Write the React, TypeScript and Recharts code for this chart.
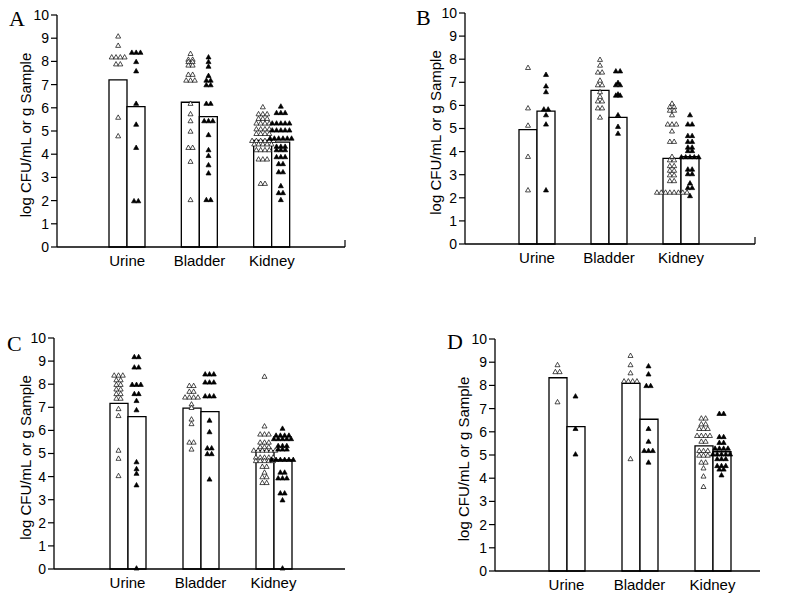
import { ComposedChart, Bar, Scatter, XAxis, YAxis, Label } from "recharts";

const categories = ["Urine", "Bladder", "Kidney"];
const yTicks = [0, 1, 2, 3, 4, 5, 6, 7, 8, 9, 10];

// bar heights per category: open bar, filled bar
const aBarOpen = [7.2, 6.24, 4.6];
const aBarFilled = [6.05, 5.62, 4.52];
const bBarOpen = [4.95, 6.65, 3.71];
const bBarFilled = [5.75, 5.48, 3.78];
const cBarOpen = [7.17, 6.96, 5.12];
const cBarFilled = [6.6, 6.81, 4.72];
const dBarOpen = [8.33, 8.09, 5.39];
const dBarFilled = [6.22, 6.54, 5.14];

// individual animals (open triangles = first group, filled = second group)
const aUrineOpen = [9.1, 8.7, 8.2, 8.2, 8.2, 8.2, 7.9, 7.9, 5.6, 4.8];
const aUrineFilled = [8.4, 8.4, 8.4, 8.0, 7.6, 6.2, 5.3, 4.3, 2.0, 2.0];
const aBladderOpen = [8.35, 8.1, 8.1, 8.0, 8.0, 7.85, 7.85, 7.45, 7.45, 7.2, 7.2, 7.2, 6.2, 5.75, 5.45, 5.0, 4.3, 4.3, 3.7, 2.05];
const aBladderFilled = [8.2, 8.0, 7.8, 7.4, 7.2, 7.2, 7.0, 7.0, 6.2, 6.2, 5.45, 5.45, 5.45, 4.85, 4.2, 3.95, 3.55, 3.2, 2.05, 2.05];
const aKidneyOpen = [6.05, 5.75, 5.75, 5.75, 5.55, 5.55, 5.55, 5.35, 5.35, 5.35, 5.35, 5.1, 5.1, 5.1, 5.1, 4.9, 4.9, 4.9, 4.9, 4.6, 4.6, 4.6, 4.6, 4.6, 4.6, 4.45, 4.45, 4.45, 4.45, 4.45, 4.2, 4.2, 4.2, 4.2, 3.8, 3.8, 3.8, 2.75, 2.75];
const aKidneyFilled = [6.08, 5.8, 5.8, 5.8, 5.35, 5.35, 5.35, 5.35, 5.35, 5.05, 5.05, 5.05, 5.05, 5.05, 4.7, 4.7, 4.7, 4.7, 4.7, 4.7, 4.35, 4.35, 4.35, 4.2, 4.2, 4.2, 3.9, 3.9, 3.9, 3.6, 3.6, 3.25, 3.25, 2.65, 2.35, 2.35, 2.05];

const bUrineOpen = [7.65, 5.9, 5.15, 3.8, 2.35];
const bUrineFilled = [7.35, 6.85, 6.6, 5.85, 5.85, 5.6, 5.2, 2.35];
const bBladderOpen = [8.0, 7.75, 7.45, 7.45, 7.1, 6.9, 6.9, 6.6, 6.4, 6.2, 6.2, 5.9, 5.9, 5.5];
const bBladderFilled = [7.5, 7.5, 7.0, 6.9, 6.9, 6.5, 6.45, 6.45, 5.6, 5.1, 4.8];
const bKidneyOpen = [6.1, 5.95, 5.95, 5.8, 5.8, 5.6, 5.2, 5.2, 5.2, 4.9, 4.45, 4.45, 3.8, 3.65, 3.65, 3.4, 3.4, 3.2, 3.2, 3.0, 3.0, 2.75, 2.75, 2.25, 2.25, 2.25, 2.25, 2.25, 2.25, 2.25, 2.25];
const bKidneyFilled = [5.6, 5.2, 5.2, 4.7, 4.7, 4.45, 4.45, 4.2, 4.2, 4.05, 4.05, 3.78, 3.78, 3.78, 3.78, 3.78, 3.25, 3.25, 3.05, 3.05, 2.65, 2.45, 2.45, 2.1];

const cUrineOpen = [8.4, 8.4, 8.4, 8.2, 8.2, 8.0, 8.0, 7.8, 7.8, 7.6, 7.6, 7.4, 7.4, 6.95, 6.65, 5.15, 4.8, 4.05];
const cUrineFilled = [9.2, 9.2, 8.75, 8.75, 8.0, 8.0, 8.0, 7.6, 7.6, 7.3, 6.9, 4.65, 4.35, 4.15, 3.65, 0.05];
const cBladderOpen = [7.95, 7.95, 7.7, 7.7, 7.45, 7.45, 7.45, 7.45, 7.15, 7.0, 6.5, 6.3, 5.5, 5.5, 5.2];
const cBladderFilled = [8.45, 8.45, 8.45, 8.1, 8.1, 8.1, 7.5, 7.5, 7.5, 6.45, 5.95, 5.25, 5.25, 5.0, 5.0, 3.9];
const cKidneyOpen = [8.35, 6.2, 5.85, 5.85, 5.85, 5.5, 5.5, 5.5, 5.3, 5.3, 5.3, 5.15, 5.15, 5.15, 5.15, 5.15, 5.15, 4.85, 4.85, 4.85, 4.85, 4.85, 4.7, 4.7, 4.7, 4.7, 4.7, 4.45, 4.45, 4.2, 4.0, 4.0, 3.75, 3.75];
const cKidneyFilled = [6.1, 5.8, 5.8, 5.8, 5.8, 5.65, 5.65, 5.65, 5.65, 5.65, 5.35, 5.35, 5.35, 5.2, 5.2, 5.2, 4.75, 4.75, 4.75, 4.75, 4.75, 4.75, 4.2, 4.2, 3.95, 3.95, 3.95, 3.3, 3.3, 3.0, 0.05];

const dUrineOpen = [8.9, 8.6, 8.6, 7.3];
const dUrineFilled = [7.55, 6.15, 5.05];
const dBladderOpen = [9.3, 8.9, 8.55, 8.2, 8.2, 8.2, 8.2, 4.85];
const dBladderFilled = [8.85, 8.5, 8.0, 8.0, 6.15, 5.6, 5.2, 5.2, 5.2, 4.7];
const dKidneyOpen = [6.6, 6.6, 6.35, 6.35, 6.15, 6.15, 6.15, 5.85, 5.85, 5.85, 5.85, 5.6, 5.6, 5.2, 5.2, 5.2, 5.0, 5.0, 5.0, 4.7, 4.7, 4.45, 4.1, 3.65];
const dKidneyFilled = [6.8, 6.8, 5.8, 5.8, 5.55, 5.55, 5.3, 5.3, 5.3, 5.3, 5.05, 5.05, 5.05, 5.05, 5.05, 4.85, 4.85, 4.85, 4.55, 4.55, 4.55, 4.4, 4.4, 4.15];

type Pt = { cat: string; v: number; k: number; n: number };

// tie-break equal values so they sit side by side like in the figure
function buildPoints(groups: number[][]): Pt[] {
  const out: Pt[] = [];
  groups.forEach((vals, ci) => {
    const counts: Record<string, number> = {};
    vals.forEach((v) => {
      counts[v] = (counts[v] || 0) + 1;
    });
    const seen: Record<string, number> = {};
    vals.forEach((v) => {
      const k = seen[v] || 0;
      seen[v] = k + 1;
      out.push({ cat: categories[ci], v, k, n: counts[v] });
    });
  });
  return out;
}

const BAR = 18;
const FONT = "Liberation Sans, Arial, Helvetica";

const triangle = (side: number, filled: boolean) => (props: any) => {
  const { cx, cy, payload } = props;
  if (cx == null || cy == null) return <g />;
  const x = cx + (side * BAR) / 2 + (payload.k - (payload.n - 1) / 2) * 4.3;
  const h = 4.4;
  const w = 2.5;
  return (
    <path
      d={`M${x},${cy - h / 2} L${x + w},${cy + h / 2} L${x - w},${cy + h / 2} Z`}
      fill={filled ? "#000" : "#fff"}
      stroke="#000"
      strokeWidth={0.7}
    />
  );
};

const openShape = triangle(-1, false);
const filledShape = triangle(1, true);

interface PanelProps {
  letter: string;
  left: number;
  top: number;
  margin: { top: number; right: number; bottom: number; left: number };
  yWidth: number;
  xHeight: number;
  pad: { left: number; right: number };
  labelX: number;
  endTick: boolean;
  letterPos: { left: number; top: number };
  barOpen: number[];
  barFilled: number[];
  open: number[][];
  filled: number[][];
}

const Panel = (p: PanelProps) => {
  const rows = categories.map((cat, i) => ({
    cat,
    open: p.barOpen[i],
    filled: p.barFilled[i],
  }));
  const openPts = buildPoints(p.open);
  const filledPts = buildPoints(p.filled);
  return (
    <>
      <div style={{ position: "absolute", left: p.left, top: p.top }}>
        <ComposedChart
          width={400}
          height={300}
          data={rows}
          margin={p.margin}
          barGap={0}
        >
          <XAxis
            dataKey="cat"
            allowDuplicatedCategory={false}
            tickLine={false}
            axisLine={{ stroke: "#000", strokeWidth: 1.3 }}
            padding={p.pad}
            height={p.xHeight}
            tick={{ fill: "#000", fontSize: 15, fontFamily: FONT }}
          >
            {p.endTick && (
              <Label
                content={(lp: any) => {
                  const vb = lp.viewBox;
                  const x = vb.x + vb.width;
                  return (
                    <line x1={x} x2={x} y1={vb.y} y2={vb.y - 7} stroke="#000" strokeWidth={1.2} />
                  );
                }}
              />
            )}
          </XAxis>
          <YAxis
            type="number"
            domain={[0, 10]}
            ticks={yTicks}
            interval={0}
            width={p.yWidth}
            axisLine={{ stroke: "#000", strokeWidth: 1.3 }}
            tickLine={{ stroke: "#000", strokeWidth: 1.2 }}
            tick={{ fill: "#000", fontSize: 14, fontFamily: FONT }}
          >
            <Label
              content={(lp: any) => {
                const vb = lp.viewBox;
                const cy = vb.y + vb.height / 2 + 4;
                return (
                  <text
                    transform={`translate(${p.labelX},${cy}) rotate(-90)`}
                    textAnchor="middle"
                    dominantBaseline="central"
                    fontSize={15}
                    fontFamily={FONT}
                    fill="#000"
                  >
                    log CFU/mL or g Sample
                  </text>
                );
              }}
            />
          </YAxis>
          <Bar dataKey="open" barSize={BAR} fill="#fff" stroke="#000" strokeWidth={1.3} isAnimationActive={false} />
          <Bar dataKey="filled" barSize={BAR} fill="#fff" stroke="#000" strokeWidth={1.3} isAnimationActive={false} />
          <Scatter data={openPts} dataKey="v" shape={openShape} isAnimationActive={false} />
          <Scatter data={filledPts} dataKey="v" shape={filledShape} isAnimationActive={false} />
        </ComposedChart>
      </div>
      <div
        style={{
          position: "absolute",
          left: p.letterPos.left,
          top: p.letterPos.top,
          fontFamily: "Liberation Serif, Times New Roman, serif",
          fontSize: 22,
          lineHeight: "22px",
        }}
      >
        {p.letter}
      </div>
    </>
  );
};

export default function App() {
  return (
    <div
      style={{
        position: "absolute",
        left: 0,
        top: 0,
        width: 800,
        height: 600,
        background: "#fff",
        overflow: "hidden",
      }}
    >
      <Panel
        letter="A"
        left={0}
        top={0}
        margin={{ top: 15, right: 55, bottom: 23, left: 0 }}
        yWidth={57}
        xHeight={30}
        pad={{ left: 34, right: 37 }}
        labelX={25}
        endTick={true}
        letterPos={{ left: 9, top: 8 }}
        barOpen={aBarOpen}
        barFilled={aBarFilled}
        open={[aUrineOpen, aBladderOpen, aKidneyOpen]}
        filled={[aUrineFilled, aBladderFilled, aKidneyFilled]}
      />
      <Panel
        letter="B"
        left={400}
        top={0}
        margin={{ top: 13, right: 45, bottom: 26, left: 0 }}
        yWidth={65}
        xHeight={30}
        pad={{ left: 36, right: 38 }}
        labelX={35}
        endTick={true}
        letterPos={{ left: 416, top: 7 }}
        barOpen={bBarOpen}
        barFilled={bBarFilled}
        open={[bUrineOpen, bBladderOpen, bKidneyOpen]}
        filled={[bUrineFilled, bBladderFilled, bKidneyFilled]}
      />
      <Panel
        letter="C"
        left={0}
        top={300}
        margin={{ top: 38, right: 55, bottom: 1, left: 0 }}
        yWidth={54}
        xHeight={30}
        pad={{ left: 37, right: 35 }}
        labelX={25}
        endTick={false}
        letterPos={{ left: 7, top: 333 }}
        barOpen={cBarOpen}
        barFilled={cBarFilled}
        open={[cUrineOpen, cBladderOpen, cKidneyOpen]}
        filled={[cUrineFilled, cBladderFilled, cKidneyFilled]}
      />
      <Panel
        letter="D"
        left={400}
        top={300}
        margin={{ top: 39, right: 40, bottom: 0, left: 0 }}
        yWidth={95}
        xHeight={29}
        pad={{ left: 35, right: 11 }}
        labelX={63}
        endTick={false}
        letterPos={{ left: 447, top: 331 }}
        barOpen={dBarOpen}
        barFilled={dBarFilled}
        open={[dUrineOpen, dBladderOpen, dKidneyOpen]}
        filled={[dUrineFilled, dBladderFilled, dKidneyFilled]}
      />
    </div>
  );
}
